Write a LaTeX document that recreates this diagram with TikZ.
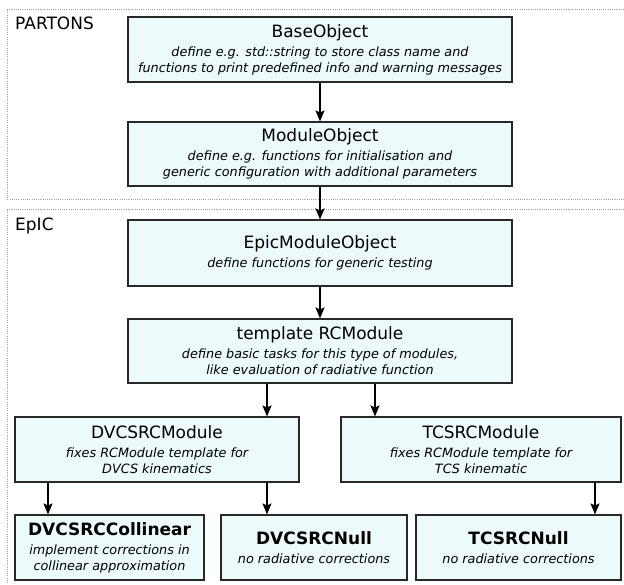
\documentclass[tikz,border=0pt]{standalone}
\usepackage{fontspec}
\setmainfont{DejaVu Sans}[ItalicFont={DejaVu Sans Oblique},BoldFont={DejaVu Sans Bold}]
\usetikzlibrary{arrows.meta}
\definecolor{boxfill}{RGB}{236,250,252}
\definecolor{boxdraw}{RGB}{40,40,40}
\definecolor{framecol}{RGB}{150,160,150}
\newcommand\ttlfont{\fontsize{17}{20}\selectfont\upshape}
\newcommand\dscfont{\fontsize{12.8}{16}\selectfont\itshape}
\begin{document}
\begin{tikzpicture}[x=1pt,y=-1pt,
  box/.style={draw=boxdraw, line width=1.1pt, fill=boxfill, align=center, inner sep=0pt, font=\dscfont},
  arr/.style={-{Stealth[length=11pt,width=9pt,inset=2pt]}, line width=1.6pt},
  frame/.style={draw=framecol, line width=0.7pt, dash pattern=on 1pt off 1.2pt},
  lbl/.style={anchor=west, inner sep=0pt, font=\ttlfont}]
\path[use as bounding box] (0,0) rectangle (624,584);
% frames
\draw[frame] (624,9) -- (7,9) -- (7,199) -- (624,199);
\draw[frame] (624,209) -- (7,209) -- (7,584);
\node[lbl] (lp) at (15,23) {PARTONS};
\node[lbl] (le) at (15,226) {EpIC};
% boxes
\node[box, minimum width=384pt, minimum height=65pt] (base) at (320,49.5)
  {{\ttlfont BaseObject}\\[3pt]define e.g. std::string to store class name and\\functions to print predefined info and warning messages};
\node[box, minimum width=384pt, minimum height=64pt] (module) at (320,154)
  {{\ttlfont ModuleObject}\\[3pt]define e.g. functions for initialisation and\\generic configuration with additional parameters};
\node[box, minimum width=384pt, minimum height=66pt] (epic) at (320,253)
  {{\ttlfont EpicModuleObject}\\[3pt]define functions for generic testing};
\node[box, minimum width=384pt, minimum height=64pt] (rc) at (320,351)
  {{\ttlfont template RCModule}\\[3pt]define basic tasks for this type of modules,\\like evaluation of radiative function};
\node[box, minimum width=284pt, minimum height=65pt] (dvcs) at (157,449.5)
  {{\ttlfont DVCSRCModule}\\[3pt]fixes RCModule template for\\DVCS kinematics};
\node[box, minimum width=280pt, minimum height=65pt] (tcs) at (481,449.5)
  {{\ttlfont TCSRCModule}\\[3pt]fixes RCModule template for\\TCS kinematic};
\node[box, minimum width=189pt, minimum height=65pt] (coll) at (109.5,547.5)
  {{\ttlfont\bfseries DVCSRCCollinear}\\[3pt]implement corrections in\\collinear approximation};
\node[box, minimum width=186pt, minimum height=65pt] (dnull) at (314,547.5)
  {{\ttlfont\bfseries DVCSRCNull}\\[3pt]no radiative corrections};
\node[box, minimum width=205pt, minimum height=65pt] (tnull) at (518.5,547.5)
  {{\ttlfont\bfseries TCSRCNull}\\[3pt]no radiative corrections};
% arrows
\coordinate (xa) at (267,0);
\coordinate (xb) at (375,0);
\coordinate (xc) at (48,0);
\coordinate (xd) at (595,0);
\draw[arr] (base.south) -- (module.north);
\draw[arr] (module.south) -- (epic.north);
\draw[arr] (epic.south) -- (rc.north);
\draw[arr] (rc.south -| xa) -- (dvcs.north -| xa);
\draw[arr] (rc.south -| xb) -- (tcs.north -| xb);
\draw[arr] (dvcs.south -| xc) -- (coll.north -| xc);
\draw[arr] (dvcs.south -| xa) -- (dnull.north -| xa);
\draw[arr] (tcs.south -| xd) -- (tnull.north -| xd);
\end{tikzpicture}
\end{document}
